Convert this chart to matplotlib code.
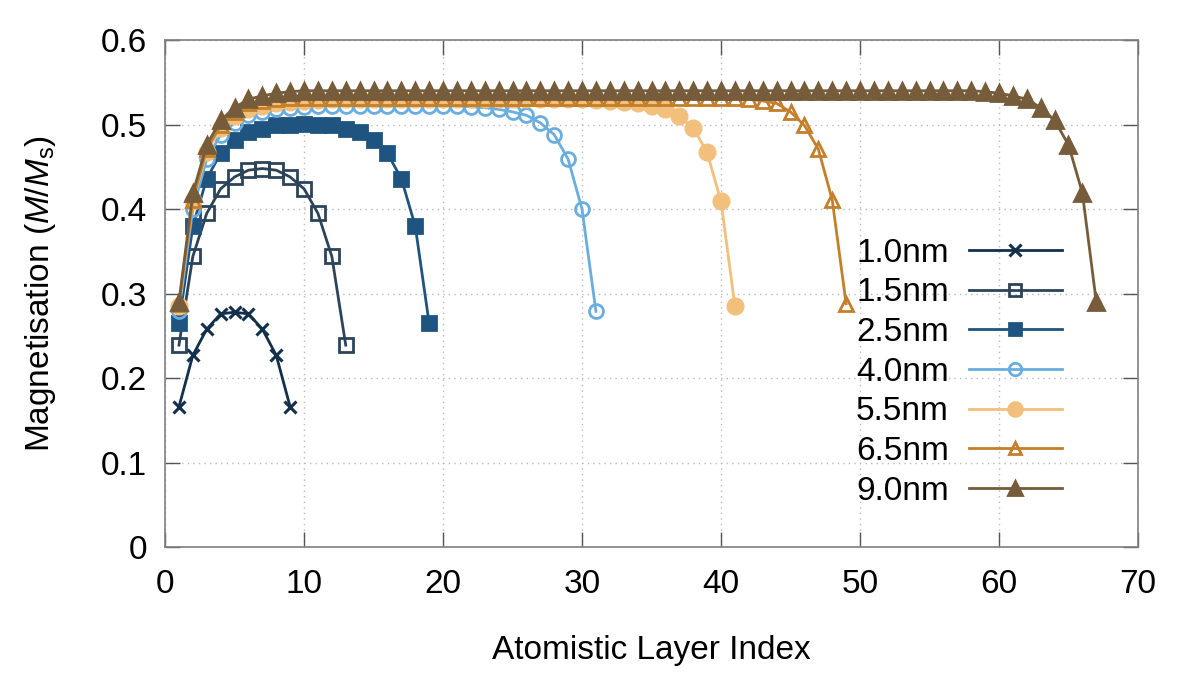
import matplotlib
matplotlib.use("Agg")
import matplotlib.pyplot as plt

# ---- data ----
labels = ["1.0nm", "1.5nm", "2.5nm", "4.0nm", "5.5nm", "6.5nm", "9.0nm"]

m_10 = [0.166, 0.227, 0.258, 0.276, 0.278, 0.276, 0.258, 0.227, 0.166]

m_15 = [0.239, 0.344, 0.395, 0.424, 0.438, 0.446, 0.448, 0.446, 0.438,
        0.424, 0.395, 0.344, 0.239]

m_25 = [0.265, 0.380, 0.436, 0.466, 0.482, 0.491, 0.495, 0.499, 0.500,
        0.501, 0.500, 0.499, 0.495, 0.491, 0.482, 0.466, 0.436, 0.380, 0.265]

m_40 = [0.279, 0.400, 0.459, 0.488, 0.502, 0.511, 0.515, 0.518, 0.520,
        0.521, 0.522, 0.522, 0.522, 0.522, 0.522, 0.522, 0.522, 0.522,
        0.522, 0.522, 0.522, 0.521, 0.520, 0.518, 0.515, 0.511, 0.502,
        0.488, 0.459, 0.400, 0.279]

m_55 = [0.285, 0.409, 0.467, 0.496, 0.510, 0.518, 0.522, 0.525, 0.527,
        0.528, 0.529, 0.530, 0.530, 0.530, 0.530, 0.530, 0.530, 0.530,
        0.530, 0.530, 0.530, 0.530, 0.530, 0.530, 0.530, 0.530, 0.530,
        0.530, 0.530, 0.530, 0.529, 0.528, 0.527, 0.525, 0.522, 0.518,
        0.510, 0.496, 0.467, 0.409, 0.285]

m_65 = [0.288, 0.411, 0.471, 0.499, 0.515, 0.525, 0.528, 0.530, 0.531,
        0.532, 0.532, 0.532, 0.532, 0.532, 0.532, 0.532, 0.532, 0.532,
        0.532, 0.532, 0.532, 0.532, 0.532, 0.532, 0.532, 0.532, 0.532,
        0.532, 0.532, 0.532, 0.532, 0.532, 0.532, 0.532, 0.532, 0.532,
        0.532, 0.532, 0.532, 0.532, 0.531, 0.530, 0.528, 0.525, 0.515,
        0.499, 0.471, 0.411, 0.288]

m_90 = [0.290, 0.419, 0.476, 0.505, 0.520, 0.530, 0.534, 0.537, 0.539,
        0.540, 0.540, 0.540, 0.540, 0.540, 0.540, 0.540, 0.540, 0.540,
        0.540, 0.540, 0.540, 0.540, 0.540, 0.540, 0.540, 0.540, 0.540,
        0.540, 0.540, 0.540, 0.540, 0.540, 0.540, 0.540, 0.540, 0.540,
        0.540, 0.540, 0.540, 0.540, 0.540, 0.540, 0.540, 0.540, 0.540,
        0.540, 0.540, 0.540, 0.540, 0.540, 0.540, 0.540, 0.540, 0.540,
        0.540, 0.540, 0.540, 0.540, 0.539, 0.537, 0.534, 0.530, 0.520,
        0.505, 0.476, 0.419, 0.290]

series = [m_10, m_15, m_25, m_40, m_55, m_65, m_90]

x_ticks = [0, 10, 20, 30, 40, 50, 60, 70]
y_ticks = [0, 0.1, 0.2, 0.3, 0.4, 0.5, 0.6]
y_tick_labels = ["0", "0.1", "0.2", "0.3", "0.4", "0.5", "0.6"]

# ---- styles ----
colors = ["#12304c", "#2c4459", "#1f5480", "#6aaee0", "#f2bf7c", "#c47f2a", "#765c3a"]
markers = ["x", "s", "s", "o", "o", "^", "^"]
filled = [True, False, True, False, True, False, True]
msizes = [9, 9.5, 10, 10, 11, 10, 11]

plt.rcParams["font.family"] = ["Liberation Sans", "DejaVu Sans"]
plt.rcParams["mathtext.fontset"] = "custom"
plt.rcParams["mathtext.rm"] = "Liberation Sans"
plt.rcParams["mathtext.it"] = "Liberation Sans:italic"

fig = plt.figure(figsize=(11.96, 6.73), dpi=100)
ax = fig.add_axes([0.138, 0.187, 0.8135, 0.7535])

for y, lab, c, mk, fl, ms in zip(series, labels, colors, markers, filled, msizes):
    x = list(range(1, len(y) + 1))
    ax.plot(x, y, color=c, lw=2.0, marker=mk, markersize=ms,
            markerfacecolor=(c if fl else "none"), markeredgecolor=c,
            markeredgewidth=(2.2 if mk == "x" else 2.0), label=lab)

ax.set_xlim(0, 70)
ax.set_ylim(0, 0.6)
ax.set_xticks(x_ticks)
ax.set_yticks(y_ticks)
ax.set_yticklabels(y_tick_labels)
ax.grid(True, linestyle=(0, (1, 3)), color="#bbbbbb", linewidth=1.0)
ax.set_axisbelow(True)

for s in ax.spines.values():
    s.set_color("#808080")
    s.set_linewidth(1.2)

ax.tick_params(axis="both", which="major", direction="in", length=11, width=1.0,
               color="#555555", top=True, right=True, labelsize=24)
ax.tick_params(axis="x", pad=16)
ax.tick_params(axis="y", pad=13)

ax.set_xlabel("Atomistic Layer Index", fontsize=24, labelpad=25)
ax.set_ylabel(r"Magnetisation ($\mathit{M}$/$\mathit{M}_\mathrm{s}$)", fontsize=24, labelpad=31)

handles, labs = ax.get_legend_handles_labels()
leg = ax.legend(handles, labs, loc="upper right", bbox_to_anchor=(0.922, 0.61),
                frameon=False, fontsize=24, markerfirst=False, handlelength=2.8,
                handletextpad=0.6, labelspacing=0.26, borderpad=0, borderaxespad=0,
                markerscale=0.9)

fig.savefig("out.png", dpi=100)
